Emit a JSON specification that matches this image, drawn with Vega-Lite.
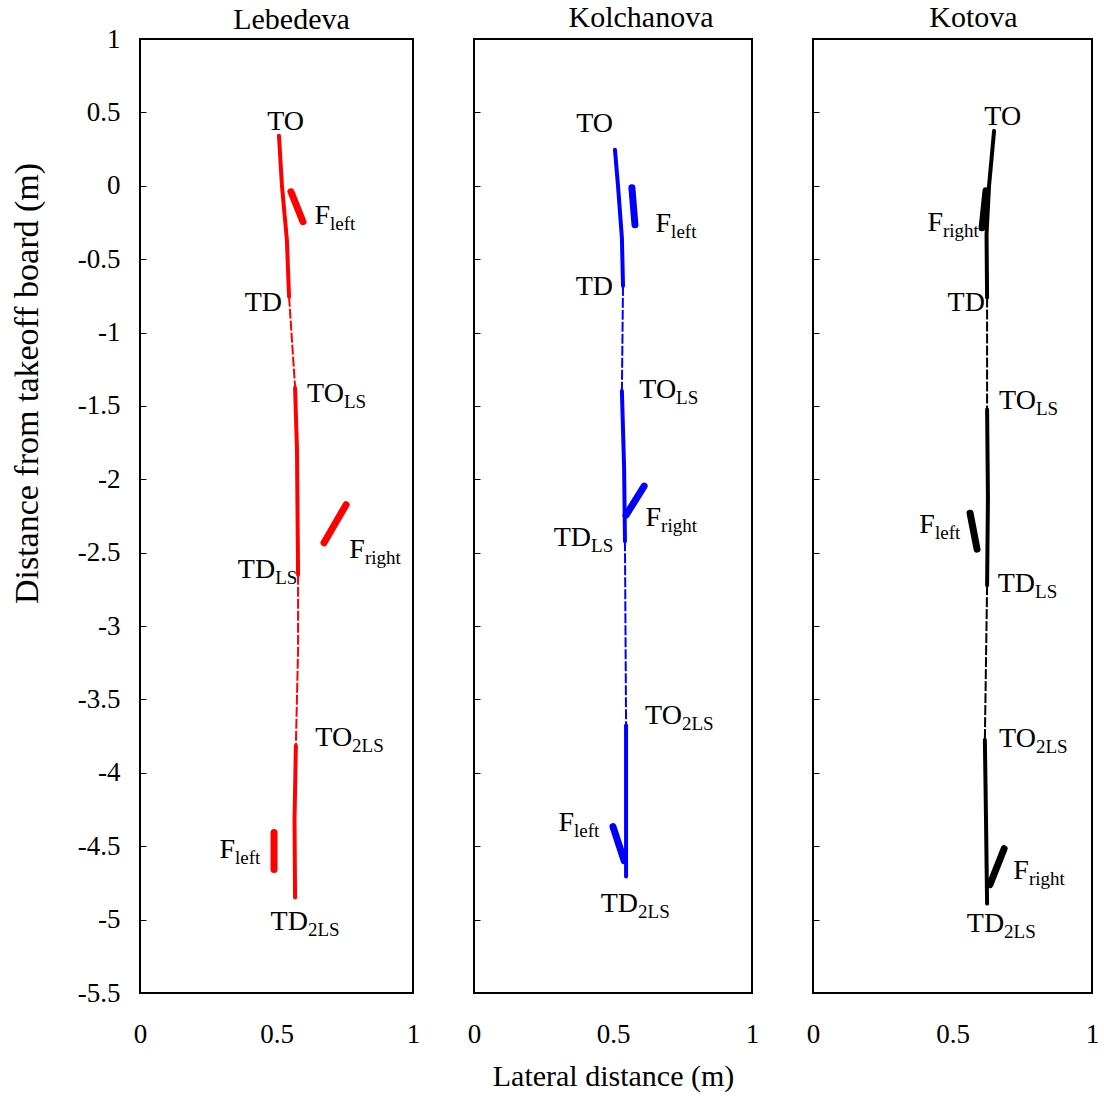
{
  "$schema": "https://vega.github.io/schema/vega-lite/v6.json",
  "background": "white",
  "padding": {"left": 9, "top": 1, "right": 2, "bottom": 0},
  "bounds": "flush",
  "spacing": 61,
  "config": {
    "view": {"stroke": "black", "strokeWidth": 2},
    "axis": {"labelColor": "black", "titleColor": "black", "titleFontWeight": "normal", "grid": false, "tickColor": "black", "domainColor": "black"},
    "title": {"font": "Liberation Serif", "fontWeight": "normal", "fontSize": 30, "color": "black"}
  },
  "datasets": {
    "paths": [
      {"athlete": "Lebedeva", "segment": "t1", "kind": "thick", "order": 1, "x": 0.509, "y": 0.341},
      {"athlete": "Lebedeva", "segment": "t1", "kind": "thick", "order": 2, "x": 0.520, "y": 0},
      {"athlete": "Lebedeva", "segment": "t1", "kind": "thick", "order": 3, "x": 0.538, "y": -0.368},
      {"athlete": "Lebedeva", "segment": "t1", "kind": "thick", "order": 4, "x": 0.546, "y": -0.756},
      {"athlete": "Lebedeva", "segment": "d1", "kind": "dash", "order": 1, "x": 0.546, "y": -0.756},
      {"athlete": "Lebedeva", "segment": "d1", "kind": "dash", "order": 2, "x": 0.568, "y": -1.369},
      {"athlete": "Lebedeva", "segment": "t2", "kind": "thick", "order": 1, "x": 0.568, "y": -1.376},
      {"athlete": "Lebedeva", "segment": "t2", "kind": "thick", "order": 2, "x": 0.575, "y": -1.798},
      {"athlete": "Lebedeva", "segment": "t2", "kind": "thick", "order": 3, "x": 0.579, "y": -2.650},
      {"athlete": "Lebedeva", "segment": "d2", "kind": "dash", "order": 1, "x": 0.579, "y": -2.650},
      {"athlete": "Lebedeva", "segment": "d2", "kind": "dash", "order": 2, "x": 0.579, "y": -3.161},
      {"athlete": "Lebedeva", "segment": "d2", "kind": "dash", "order": 3, "x": 0.571, "y": -3.815},
      {"athlete": "Lebedeva", "segment": "t3", "kind": "thick", "order": 1, "x": 0.571, "y": -3.815},
      {"athlete": "Lebedeva", "segment": "t3", "kind": "thick", "order": 2, "x": 0.566, "y": -4.319},
      {"athlete": "Lebedeva", "segment": "t3", "kind": "thick", "order": 3, "x": 0.568, "y": -4.850},
      {"athlete": "Lebedeva", "segment": "f1", "kind": "force", "order": 1, "x": 0.553, "y": -0.041},
      {"athlete": "Lebedeva", "segment": "f1", "kind": "force", "order": 2, "x": 0.597, "y": -0.245},
      {"athlete": "Lebedeva", "segment": "f2", "kind": "force", "order": 1, "x": 0.755, "y": -2.173},
      {"athlete": "Lebedeva", "segment": "f2", "kind": "force", "order": 2, "x": 0.674, "y": -2.432},
      {"athlete": "Lebedeva", "segment": "f3", "kind": "force", "order": 1, "x": 0.491, "y": -4.407},
      {"athlete": "Lebedeva", "segment": "f3", "kind": "force", "order": 2, "x": 0.491, "y": -4.659},

      {"athlete": "Kolchanova", "segment": "t1", "kind": "thick", "order": 1, "x": 0.507, "y": 0.246},
      {"athlete": "Kolchanova", "segment": "t1", "kind": "thick", "order": 2, "x": 0.518, "y": 0},
      {"athlete": "Kolchanova", "segment": "t1", "kind": "thick", "order": 3, "x": 0.532, "y": -0.355},
      {"athlete": "Kolchanova", "segment": "t1", "kind": "thick", "order": 4, "x": 0.536, "y": -0.682},
      {"athlete": "Kolchanova", "segment": "d1", "kind": "dash", "order": 1, "x": 0.536, "y": -0.682},
      {"athlete": "Kolchanova", "segment": "d1", "kind": "dash", "order": 2, "x": 0.532, "y": -1.398},
      {"athlete": "Kolchanova", "segment": "t2", "kind": "thick", "order": 1, "x": 0.532, "y": -1.398},
      {"athlete": "Kolchanova", "segment": "t2", "kind": "thick", "order": 2, "x": 0.540, "y": -1.924},
      {"athlete": "Kolchanova", "segment": "t2", "kind": "thick", "order": 3, "x": 0.543, "y": -2.422},
      {"athlete": "Kolchanova", "segment": "d2", "kind": "dash", "order": 1, "x": 0.543, "y": -2.422},
      {"athlete": "Kolchanova", "segment": "d2", "kind": "dash", "order": 2, "x": 0.547, "y": -3.677},
      {"athlete": "Kolchanova", "segment": "t3", "kind": "thick", "order": 1, "x": 0.547, "y": -3.677},
      {"athlete": "Kolchanova", "segment": "t3", "kind": "thick", "order": 2, "x": 0.547, "y": -4.707},
      {"athlete": "Kolchanova", "segment": "f1", "kind": "force", "order": 1, "x": 0.568, "y": -0.014},
      {"athlete": "Kolchanova", "segment": "f1", "kind": "force", "order": 2, "x": 0.579, "y": -0.266},
      {"athlete": "Kolchanova", "segment": "f2", "kind": "force", "order": 1, "x": 0.612, "y": -2.046},
      {"athlete": "Kolchanova", "segment": "f2", "kind": "force", "order": 2, "x": 0.547, "y": -2.244},
      {"athlete": "Kolchanova", "segment": "f3", "kind": "force", "order": 1, "x": 0.500, "y": -4.366},
      {"athlete": "Kolchanova", "segment": "f3", "kind": "force", "order": 2, "x": 0.540, "y": -4.598},

      {"athlete": "Kotova", "segment": "t1", "kind": "thick", "order": 1, "x": 0.649, "y": 0.374},
      {"athlete": "Kotova", "segment": "t1", "kind": "thick", "order": 2, "x": 0.631, "y": 0},
      {"athlete": "Kotova", "segment": "t1", "kind": "thick", "order": 3, "x": 0.622, "y": -0.333},
      {"athlete": "Kotova", "segment": "t1", "kind": "thick", "order": 4, "x": 0.624, "y": -0.762},
      {"athlete": "Kotova", "segment": "d1", "kind": "dash", "order": 1, "x": 0.624, "y": -0.762},
      {"athlete": "Kotova", "segment": "d1", "kind": "dash", "order": 2, "x": 0.624, "y": -1.524},
      {"athlete": "Kotova", "segment": "t2", "kind": "thick", "order": 1, "x": 0.624, "y": -1.524},
      {"athlete": "Kotova", "segment": "t2", "kind": "thick", "order": 2, "x": 0.627, "y": -2.122},
      {"athlete": "Kotova", "segment": "t2", "kind": "thick", "order": 3, "x": 0.624, "y": -2.721},
      {"athlete": "Kotova", "segment": "d2", "kind": "dash", "order": 1, "x": 0.624, "y": -2.721},
      {"athlete": "Kotova", "segment": "d2", "kind": "dash", "order": 2, "x": 0.616, "y": -3.776},
      {"athlete": "Kotova", "segment": "t3", "kind": "thick", "order": 1, "x": 0.616, "y": -3.776},
      {"athlete": "Kotova", "segment": "t3", "kind": "thick", "order": 2, "x": 0.620, "y": -4.299},
      {"athlete": "Kotova", "segment": "t3", "kind": "thick", "order": 3, "x": 0.624, "y": -4.891},
      {"athlete": "Kotova", "segment": "f1", "kind": "force", "order": 1, "x": 0.620, "y": -0.034},
      {"athlete": "Kotova", "segment": "f1", "kind": "force", "order": 2, "x": 0.606, "y": -0.286},
      {"athlete": "Kotova", "segment": "f2", "kind": "force", "order": 1, "x": 0.563, "y": -2.231},
      {"athlete": "Kotova", "segment": "f2", "kind": "force", "order": 2, "x": 0.588, "y": -2.476},
      {"athlete": "Kotova", "segment": "f3", "kind": "force", "order": 1, "x": 0.685, "y": -4.517},
      {"athlete": "Kotova", "segment": "f3", "kind": "force", "order": 2, "x": 0.634, "y": -4.762}
    ],
    "labels": [
      {"athlete": "Lebedeva", "main": "TO", "sub": "", "x": 0.601, "y": 0.381},
      {"athlete": "Lebedeva", "main": "F", "sub": "left", "x": 0.696, "y": -0.259},
      {"athlete": "Lebedeva", "main": "TD", "sub": "", "x": 0.520, "y": -0.851},
      {"athlete": "Lebedeva", "main": "TO", "sub": "LS", "x": 0.747, "y": -1.471},
      {"athlete": "Lebedeva", "main": "F", "sub": "right", "x": 0.824, "y": -2.534},
      {"athlete": "Lebedeva", "main": "TD", "sub": "LS", "x": 0.495, "y": -2.670},
      {"athlete": "Lebedeva", "main": "TO", "sub": "2LS", "x": 0.777, "y": -3.815},
      {"athlete": "Lebedeva", "main": "F", "sub": "left", "x": 0.348, "y": -4.578},
      {"athlete": "Lebedeva", "main": "TD", "sub": "2LS", "x": 0.615, "y": -5.068},

      {"athlete": "Kolchanova", "main": "TO", "sub": "", "x": 0.500, "y": 0.368},
      {"athlete": "Kolchanova", "main": "F", "sub": "left", "x": 0.709, "y": -0.314},
      {"athlete": "Kolchanova", "main": "TD", "sub": "", "x": 0.500, "y": -0.744},
      {"athlete": "Kolchanova", "main": "TO", "sub": "LS", "x": 0.727, "y": -1.446},
      {"athlete": "Kolchanova", "main": "F", "sub": "right", "x": 0.673, "y": -2.319},
      {"athlete": "Kolchanova", "main": "TD", "sub": "LS", "x": 0.421, "y": -2.456},
      {"athlete": "Kolchanova", "main": "TO", "sub": "2LS", "x": 0.748, "y": -3.670},
      {"athlete": "Kolchanova", "main": "F", "sub": "left", "x": 0.360, "y": -4.393},
      {"athlete": "Kolchanova", "main": "TD", "sub": "2LS", "x": 0.590, "y": -4.945},

      {"athlete": "Kotova", "main": "TO", "sub": "", "x": 0.746, "y": 0.415},
      {"athlete": "Kotova", "main": "F", "sub": "right", "x": 0.466, "y": -0.306},
      {"athlete": "Kotova", "main": "TD", "sub": "", "x": 0.616, "y": -0.850},
      {"athlete": "Kotova", "main": "TO", "sub": "LS", "x": 0.799, "y": -1.524},
      {"athlete": "Kotova", "main": "F", "sub": "left", "x": 0.437, "y": -2.367},
      {"athlete": "Kotova", "main": "TD", "sub": "LS", "x": 0.796, "y": -2.769},
      {"athlete": "Kotova", "main": "TO", "sub": "2LS", "x": 0.799, "y": -3.823},
      {"athlete": "Kotova", "main": "F", "sub": "right", "x": 0.774, "y": -4.721},
      {"athlete": "Kotova", "main": "TD", "sub": "2LS", "x": 0.685, "y": -5.082}
    ]
  },
  "hconcat": [
    {
      "width": 273, "height": 954,
      "title": {"text": "Lebedeva", "dx": 15, "offset": -10},
      "encoding": {
        "x": {"field": "x", "type": "quantitative", "scale": {"domain": [0, 1], "nice": false},
              "axis": {"values": [0, 0.5, 1], "labelExpr": "'' + datum.value", "labelFlush": false, "ticks": false, "domain": false, "labelPadding": 28, "labelFontSize": 27, "labelFont": "Liberation Serif", "title": null}},
        "y": {"field": "y", "type": "quantitative", "scale": {"domain": [-5.5, 1], "nice": false, "zero": false},
              "axis": {"values": [1, 0.5, 0, -0.5, -1, -1.5, -2, -2.5, -3, -3.5, -4, -4.5, -5, -5.5], "labelExpr": "'' + datum.value", "tickSize": -6, "domain": false, "labelFontSize": 27, "labelFont": "Liberation Serif", "labelPadding": 26, "title": "Distance from takeoff board (m)", "titleFont": "Liberation Serif", "titleFontSize": 34, "titleFontWeight": "normal", "titleY": 344, "titlePadding": 33}}
      },
      "layer": [
        {"mark": {"type": "rule", "color": "black", "strokeWidth": 1}, "encoding": {"x": null, "y": {"datum": 0, "type": "quantitative"}}},
        {"mark": {"type": "rule", "color": "black", "strokeWidth": 1}, "encoding": {"x": {"datum": 0.5, "type": "quantitative"}, "y": {"datum": 0, "type": "quantitative"}, "y2": {"datum": 0.05}}},
        {"data": {"name": "paths"}, "transform": [{"filter": "datum.athlete == 'Lebedeva' && datum.kind == 'dash'"}],
         "mark": {"type": "line", "color": "#ff0000", "strokeWidth": 2, "strokeDash": [10, 2]},
         "encoding": {"detail": {"field": "segment"}, "order": {"field": "order"}}},
        {"data": {"name": "paths"}, "transform": [{"filter": "datum.athlete == 'Lebedeva' && datum.kind == 'thick'"}],
         "mark": {"type": "line", "color": "#ff0000", "strokeWidth": 4, "strokeCap": "round"},
         "encoding": {"detail": {"field": "segment"}, "order": {"field": "order"}}},
        {"data": {"name": "paths"}, "transform": [{"filter": "datum.athlete == 'Lebedeva' && datum.kind == 'force'"}],
         "mark": {"type": "line", "color": "#ff0000", "strokeWidth": 7, "strokeCap": "round"},
         "encoding": {"detail": {"field": "segment"}, "order": {"field": "order"}}},
        {"data": {"name": "labels"}, "transform": [{"filter": "datum.athlete == 'Lebedeva'"}],
         "mark": {"type": "text", "align": "right", "baseline": "alphabetic", "fontSize": 28, "font": "Liberation Serif", "color": "black"},
         "encoding": {"text": {"field": "main"}}},
        {"data": {"name": "labels"}, "transform": [{"filter": "datum.athlete == 'Lebedeva'"}],
         "mark": {"type": "text", "align": "left", "baseline": "alphabetic", "fontSize": 19, "dy": 6, "font": "Liberation Serif", "color": "black"},
         "encoding": {"text": {"field": "sub"}}}
      ]
    },
    {
      "width": 278, "height": 954,
      "title": {"text": "Kolchanova", "dx": 28, "offset": 6},
      "encoding": {
        "x": {"field": "x", "type": "quantitative", "scale": {"domain": [0, 1], "nice": false},
              "axis": {"values": [0, 0.5, 1], "labelExpr": "'' + datum.value", "labelFlush": false, "ticks": false, "domain": false, "labelPadding": 28, "labelFontSize": 27, "labelFont": "Liberation Serif", "title": "Lateral distance (m)", "titleFont": "Liberation Serif", "titleFontWeight": "normal", "titleFontSize": 30, "titlePadding": 14}},
        "y": {"field": "y", "type": "quantitative", "scale": {"domain": [-5.5, 1], "nice": false, "zero": false},
              "axis": {"values": [1, 0.5, 0, -0.5, -1, -1.5, -2, -2.5, -3, -3.5, -4, -4.5, -5, -5.5], "labels": false, "tickSize": -6, "domain": false, "title": null}}
      },
      "layer": [
        {"mark": {"type": "rule", "color": "black", "strokeWidth": 1}, "encoding": {"x": null, "y": {"datum": 0, "type": "quantitative"}}},
        {"mark": {"type": "rule", "color": "black", "strokeWidth": 1}, "encoding": {"x": {"datum": 0.5, "type": "quantitative"}, "y": {"datum": 0, "type": "quantitative"}, "y2": {"datum": 0.05}}},
        {"data": {"name": "paths"}, "transform": [{"filter": "datum.athlete == 'Kolchanova' && datum.kind == 'dash'"}],
         "mark": {"type": "line", "color": "#0000ff", "strokeWidth": 2, "strokeDash": [10, 2]},
         "encoding": {"detail": {"field": "segment"}, "order": {"field": "order"}}},
        {"data": {"name": "paths"}, "transform": [{"filter": "datum.athlete == 'Kolchanova' && datum.kind == 'thick'"}],
         "mark": {"type": "line", "color": "#0000ff", "strokeWidth": 4, "strokeCap": "round"},
         "encoding": {"detail": {"field": "segment"}, "order": {"field": "order"}}},
        {"data": {"name": "paths"}, "transform": [{"filter": "datum.athlete == 'Kolchanova' && datum.kind == 'force'"}],
         "mark": {"type": "line", "color": "#0000ff", "strokeWidth": 7, "strokeCap": "round"},
         "encoding": {"detail": {"field": "segment"}, "order": {"field": "order"}}},
        {"data": {"name": "labels"}, "transform": [{"filter": "datum.athlete == 'Kolchanova'"}],
         "mark": {"type": "text", "align": "right", "baseline": "alphabetic", "fontSize": 28, "font": "Liberation Serif", "color": "black"},
         "encoding": {"text": {"field": "main"}}},
        {"data": {"name": "labels"}, "transform": [{"filter": "datum.athlete == 'Kolchanova'"}],
         "mark": {"type": "text", "align": "left", "baseline": "alphabetic", "fontSize": 19, "dy": 6, "font": "Liberation Serif", "color": "black"},
         "encoding": {"text": {"field": "sub"}}}
      ]
    },
    {
      "width": 279, "height": 954,
      "title": {"text": "Kotova", "dx": 21, "offset": 6},
      "encoding": {
        "x": {"field": "x", "type": "quantitative", "scale": {"domain": [0, 1], "nice": false},
              "axis": {"values": [0, 0.5, 1], "labelExpr": "'' + datum.value", "labelFlush": false, "ticks": false, "domain": false, "labelPadding": 28, "labelFontSize": 27, "labelFont": "Liberation Serif", "title": null}},
        "y": {"field": "y", "type": "quantitative", "scale": {"domain": [-5.5, 1], "nice": false, "zero": false},
              "axis": {"values": [1, 0.5, 0, -0.5, -1, -1.5, -2, -2.5, -3, -3.5, -4, -4.5, -5, -5.5], "labels": false, "tickSize": -6, "domain": false, "title": null}}
      },
      "layer": [
        {"mark": {"type": "rule", "color": "black", "strokeWidth": 1}, "encoding": {"x": null, "y": {"datum": 0, "type": "quantitative"}}},
        {"mark": {"type": "rule", "color": "black", "strokeWidth": 1}, "encoding": {"x": {"datum": 0.5, "type": "quantitative"}, "y": {"datum": 0, "type": "quantitative"}, "y2": {"datum": 0.05}}},
        {"data": {"name": "paths"}, "transform": [{"filter": "datum.athlete == 'Kotova' && datum.kind == 'dash'"}],
         "mark": {"type": "line", "color": "#000000", "strokeWidth": 2, "strokeDash": [10, 2]},
         "encoding": {"detail": {"field": "segment"}, "order": {"field": "order"}}},
        {"data": {"name": "paths"}, "transform": [{"filter": "datum.athlete == 'Kotova' && datum.kind == 'thick'"}],
         "mark": {"type": "line", "color": "#000000", "strokeWidth": 4, "strokeCap": "round"},
         "encoding": {"detail": {"field": "segment"}, "order": {"field": "order"}}},
        {"data": {"name": "paths"}, "transform": [{"filter": "datum.athlete == 'Kotova' && datum.kind == 'force'"}],
         "mark": {"type": "line", "color": "#000000", "strokeWidth": 7, "strokeCap": "round"},
         "encoding": {"detail": {"field": "segment"}, "order": {"field": "order"}}},
        {"data": {"name": "labels"}, "transform": [{"filter": "datum.athlete == 'Kotova'"}],
         "mark": {"type": "text", "align": "right", "baseline": "alphabetic", "fontSize": 28, "font": "Liberation Serif", "color": "black"},
         "encoding": {"text": {"field": "main"}}},
        {"data": {"name": "labels"}, "transform": [{"filter": "datum.athlete == 'Kotova'"}],
         "mark": {"type": "text", "align": "left", "baseline": "alphabetic", "fontSize": 19, "dy": 6, "font": "Liberation Serif", "color": "black"},
         "encoding": {"text": {"field": "sub"}}}
      ]
    }
  ]
}
